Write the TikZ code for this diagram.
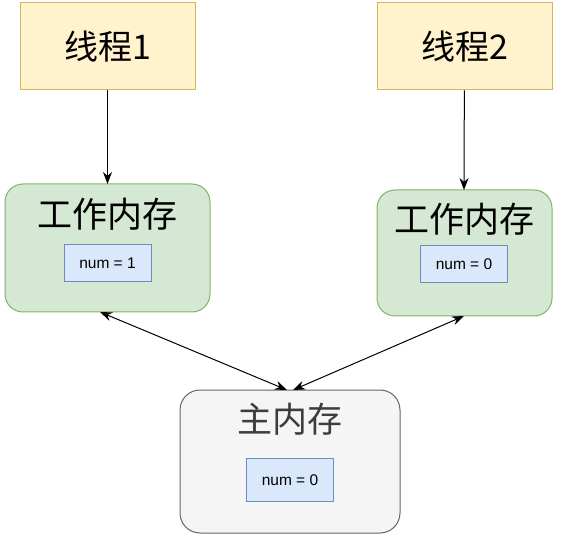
\documentclass[tikz,border=0pt]{standalone}
\usepackage{fontspec}
\setmainfont{Liberation Sans}
\newfontfamily\cjk{Noto Sans CJK SC}
\usetikzlibrary{arrows.meta}

\definecolor{threadfill}{HTML}{FFF2CC}
\definecolor{threadline}{HTML}{D6B656}
\definecolor{workfill}{HTML}{D5E8D4}
\definecolor{workline}{HTML}{82B366}
\definecolor{mainfill}{HTML}{F5F5F5}
\definecolor{mainline}{HTML}{666666}
\definecolor{varfill}{HTML}{DAE8FC}
\definecolor{varline}{HTML}{6C8EBF}

\tikzset{
	threadbox/.style={draw=threadline, fill=threadfill, line width=1pt,
		minimum width=175pt, minimum height=87pt, font=\cjk\fontsize{34}{40}\selectfont},
	workbox/.style={draw=workline, fill=workfill, line width=1pt,
		rounded corners=18pt},
	mainbox/.style={draw=mainline, fill=mainfill, line width=1pt,
		rounded corners=20pt},
	title/.style={font=\cjk\fontsize{35}{40}\selectfont, inner sep=0pt},
	varbox/.style={draw=varline, fill=varfill, line width=1pt,
		minimum width=87pt, minimum height=37pt, font=\fontsize{15.5}{18}\selectfont},
	link/.style={line width=1pt, -{Stealth[length=12pt,width=9pt]}},
	duallink/.style={line width=1pt, {Stealth[length=12pt,width=9pt]}-{Stealth[length=12pt,width=9pt]}}
}

\begin{document}
\begin{tikzpicture}[x=1pt, y=-1pt]
		\useasboundingbox (0,0) rectangle (568,540);

		% Threads
		\node[threadbox] (thread1) at (107.5, 46.5) {线程1};
		\node[threadbox] (thread2) at (464.5, 46.5) {线程2};

		% Working memories
		\draw[workbox] (5, 184) rectangle (210, 312);
		\coordinate (work1) at (107.5, 184);
		\coordinate (work1b) at (100, 312);
		\node[title] (work1title) at (107.5, 214) {工作内存};
		\node[varbox] (var1) at (107.5, 263.5) {num = 1};

		\draw[workbox] (377, 190) rectangle (552, 316);
		\coordinate (work2) at (464, 190);
		\coordinate (work2b) at (464, 316);
		\node[title] (work2title) at (464.5, 219) {工作内存};
		\node[varbox] (var2) at (464, 264) {num = 0};

		% Main memory
		\draw[mainbox] (180, 390) rectangle (400, 533);
		\coordinate (mainl) at (287, 390);
		\coordinate (mainr) at (293, 390);
		\node[title, text=mainline!60!black] (maintitle) at (290, 419) {主内存};
		\node[varbox, minimum height=43pt] (var3) at (290, 480) {num = 0};

		% Connectors
		\draw[link] (thread1) -- (work1);
		\draw[link] (thread2) -- (work2);
		\draw[duallink] (work1b) -- (mainl);
		\draw[duallink] (mainr) -- (work2b);
	\end{tikzpicture}
\end{document}
